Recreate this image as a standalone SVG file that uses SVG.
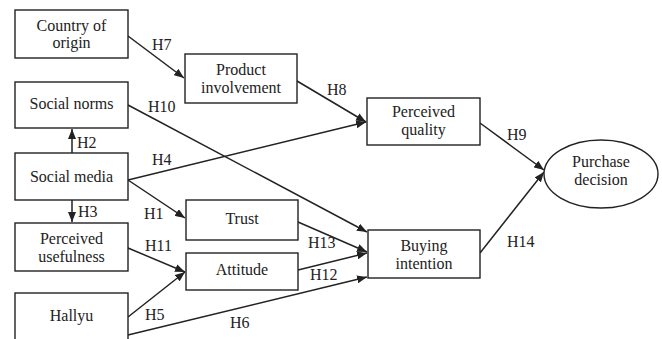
<svg xmlns="http://www.w3.org/2000/svg" width="662" height="339" viewBox="0 0 662 339">
<style>
.box{fill:#fff;stroke:#222;stroke-width:1.4}
.t{font-family:"Liberation Serif","Times New Roman",serif;font-size:16px;fill:#222;text-anchor:middle}
.l{font-family:"Liberation Serif","Times New Roman",serif;font-size:16px;fill:#222}
.c{stroke:#222;stroke-width:1.5;fill:none;marker-end:url(#ah)}
</style>
<defs>
<marker id="ah" markerUnits="userSpaceOnUse" markerWidth="11" markerHeight="8" refX="10" refY="4" orient="auto">
<path d="M0,0 L10,4 L0,8 z" fill="#222"/>
</marker>
</defs>
<rect width="662" height="339" fill="#fff"/>
<g id="connectors">
<line class="c" x1="128" y1="36" x2="184" y2="78"/>
<line class="c" x1="297" y1="81" x2="366" y2="122"/>
<line class="c" x1="128" y1="105" x2="367" y2="232"/>
<line class="c" x1="72" y1="153" x2="72" y2="129"/>
<line class="c" x1="72" y1="200" x2="72" y2="222"/>
<line class="c" x1="128" y1="180" x2="366" y2="122"/>
<line class="c" x1="128" y1="180" x2="185" y2="218"/>
<line class="c" x1="128" y1="248" x2="185" y2="272"/>
<line class="c" x1="128" y1="317" x2="185" y2="272"/>
<line class="c" x1="128" y1="335" x2="367" y2="277"/>
<line class="c" x1="298" y1="222" x2="367" y2="252"/>
<line class="c" x1="298" y1="270" x2="367" y2="253"/>
<line class="c" x1="480" y1="123" x2="544" y2="170"/>
<line class="c" x1="480" y1="253" x2="544" y2="172"/>
<text class="l" x="152" y="50">H7</text>
<text class="l" x="327" y="95">H8</text>
<text class="l" x="148" y="112">H10</text>
<text class="l" x="77" y="148">H2</text>
<text class="l" x="152" y="165">H4</text>
<text class="l" x="144" y="219">H1</text>
<text class="l" x="78" y="217">H3</text>
<text class="l" x="145" y="251">H11</text>
<text class="l" x="145" y="320">H5</text>
<text class="l" x="230" y="328">H6</text>
<text class="l" x="308" y="248">H13</text>
<text class="l" x="310" y="280">H12</text>
<text class="l" x="507" y="140">H9</text>
<text class="l" x="507" y="247">H14</text>
</g>
<g id="country">
<rect class="box" x="15" y="10" width="113" height="48"/>
<text class="t" x="71.5" y="31">Country of</text>
<text class="t" x="71.5" y="48">origin</text>
</g>
<g id="socialnorms">
<rect class="box" x="15" y="82" width="113" height="46"/>
<text class="t" x="71.5" y="109">Social norms</text>
</g>
<g id="socialmedia">
<rect class="box" x="15" y="153" width="113" height="47"/>
<text class="t" x="71.5" y="182">Social media</text>
</g>
<g id="usefulness">
<rect class="box" x="15" y="223" width="113" height="48"/>
<text class="t" x="71.5" y="244">Perceived</text>
<text class="t" x="71.5" y="262">usefulness</text>
</g>
<g id="hallyu">
<rect class="box" x="15" y="293" width="113" height="55"/>
<text class="t" x="71.5" y="321">Hallyu</text>
</g>
<g id="involvement">
<rect class="box" x="185" y="54" width="112" height="49"/>
<text class="t" x="241" y="75">Product</text>
<text class="t" x="241" y="93">involvement</text>
</g>
<g id="trust">
<rect class="box" x="186" y="200" width="112" height="40"/>
<text class="t" x="242" y="224">Trust</text>
</g>
<g id="attitude">
<rect class="box" x="186" y="253" width="112" height="37"/>
<text class="t" x="242" y="275">Attitude</text>
</g>
<g id="quality">
<rect class="box" x="367" y="98" width="113" height="47"/>
<text class="t" x="423.5" y="117">Perceived</text>
<text class="t" x="423.5" y="135">quality</text>
</g>
<g id="buying">
<rect class="box" x="368" y="230" width="112" height="48"/>
<text class="t" x="424" y="251">Buying</text>
<text class="t" x="424" y="269">intention</text>
</g>
<g id="purchase">
<ellipse class="box" cx="601" cy="174" rx="57" ry="34"/>
<text class="t" x="601" y="167">Purchase</text>
<text class="t" x="601" y="185">decision</text>
</g>
</svg>
